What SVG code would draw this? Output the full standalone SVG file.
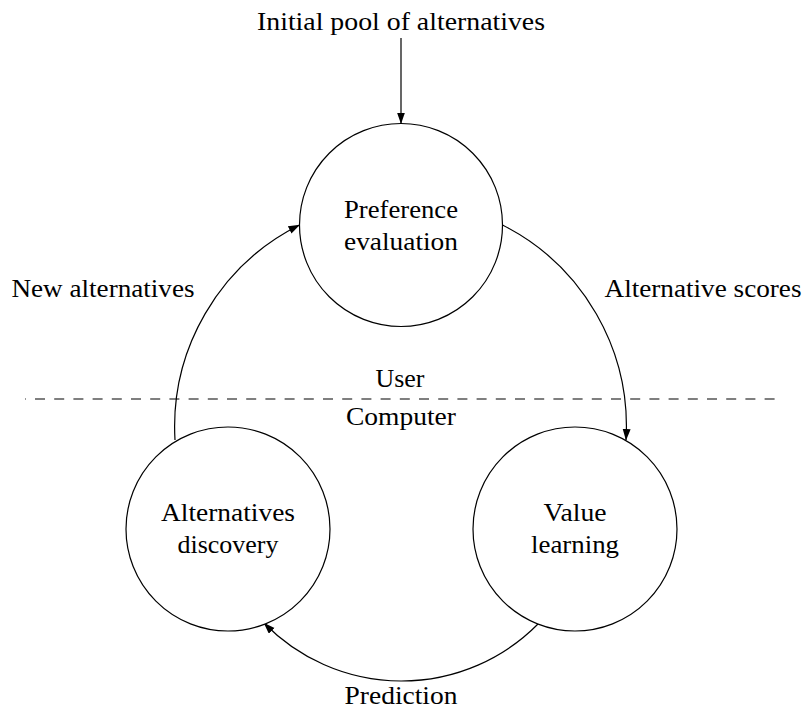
<svg xmlns="http://www.w3.org/2000/svg" width="803" height="709" viewBox="0 0 803 709">
  <style>
    .node { fill: #ffffff; stroke: #000000; stroke-width: 1.2; }
    .edge { fill: none; stroke: #000000; stroke-width: 1.2; }
    .sep { fill: none; stroke: #555555; stroke-width: 1.6; stroke-dasharray: 10 9.2; stroke-dashoffset: 9.2; }
    .lbl { font-family: "Liberation Serif", "DejaVu Serif", serif; font-size: 25.5px; fill: #000000; text-anchor: middle; }
  </style>
  <defs>
    <marker id="arrow" markerUnits="userSpaceOnUse" markerWidth="13" markerHeight="9" refX="11" refY="4" orient="auto">
      <path d="M0,0 L11.5,4 L0,8 Z" fill="#000000"/>
    </marker>
  </defs>

  <rect width="803" height="709" fill="#ffffff"/>

  <!-- user / computer separator -->
  <g id="separator">
    <line class="sep" x1="25" y1="399" x2="781" y2="399"/>
    <text class="lbl" x="400" y="387" textLength="49" lengthAdjust="spacingAndGlyphs">User</text>
    <text class="lbl" x="401" y="425" textLength="110" lengthAdjust="spacingAndGlyphs">Computer</text>
  </g>

  <!-- connectors -->
  <g id="connectors">
    <line class="edge" x1="401" y1="38" x2="401" y2="123.5" marker-end="url(#arrow)"/>
    <path class="edge" d="M 502.5 225 A 225.9 225.9 0 0 1 626 440" marker-end="url(#arrow)"/>
    <path class="edge" d="M 538 624 A 192 192 0 0 1 264 623" marker-end="url(#arrow)"/>
    <path class="edge" d="M 175 440 A 225.9 225.9 0 0 1 299.5 225" marker-end="url(#arrow)"/>
    <text class="lbl" x="401" y="30" textLength="288" lengthAdjust="spacingAndGlyphs">Initial pool of alternatives</text>
    <text class="lbl" x="703" y="297" textLength="197" lengthAdjust="spacingAndGlyphs">Alternative scores</text>
    <text class="lbl" x="103" y="297" textLength="183" lengthAdjust="spacingAndGlyphs">New alternatives</text>
    <text class="lbl" x="401" y="704" textLength="113" lengthAdjust="spacingAndGlyphs">Prediction</text>
  </g>

  <g id="preference-evaluation">
    <circle class="node" cx="401" cy="225" r="101.5"/>
    <text class="lbl" x="401" y="218" textLength="114" lengthAdjust="spacingAndGlyphs">Preference</text>
    <text class="lbl" x="401" y="250" textLength="114" lengthAdjust="spacingAndGlyphs">evaluation</text>
  </g>

  <g id="value-learning">
    <circle class="node" cx="575" cy="529" r="102"/>
    <text class="lbl" x="575" y="521" textLength="63" lengthAdjust="spacingAndGlyphs">Value</text>
    <text class="lbl" x="575" y="553" textLength="88" lengthAdjust="spacingAndGlyphs">learning</text>
  </g>

  <g id="alternatives-discovery">
    <circle class="node" cx="228" cy="529" r="102"/>
    <text class="lbl" x="228" y="521" textLength="134" lengthAdjust="spacingAndGlyphs">Alternatives</text>
    <text class="lbl" x="228" y="553" textLength="101" lengthAdjust="spacingAndGlyphs">discovery</text>
  </g>
</svg>
